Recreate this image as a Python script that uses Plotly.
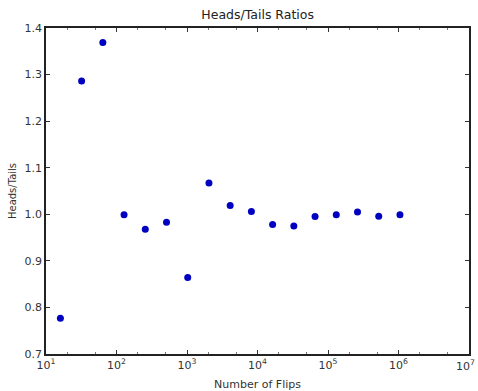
import plotly.graph_objects as go

flips = [16, 32, 64, 128, 256, 512, 1024, 2048, 4096, 8192, 16384, 32768,
         65536, 131072, 262144, 524288, 1048576]
ratios = [0.777, 1.286, 1.369, 0.999, 0.968, 0.983, 0.864, 1.067, 1.019,
          1.006, 0.978, 0.975, 0.995, 0.999, 1.005, 0.996, 0.999]

xtick_vals = [10, 100, 1000, 10000, 100000, 1000000, 10000000]
xtick_text = ["10<sup>1</sup>", "10<sup>2</sup>", "10<sup>3</sup>", "10<sup>4</sup>",
              "10<sup>5</sup>", "10<sup>6</sup>", "10<sup>7</sup>"]
ytick_vals = [0.7, 0.8, 0.9, 1.0, 1.1, 1.2, 1.3, 1.4]

fig = go.Figure()
fig.add_trace(go.Scatter(
    x=flips, y=ratios, mode="markers",
    marker=dict(color="#0000c0", size=7, line=dict(width=0)),
    showlegend=False,
))

tickfont = dict(family="DejaVu Sans", size=11, color="#333333")

W, H = 478, 391
fig.update_layout(
    width=W, height=H,
    margin=dict(l=46, r=9, t=28, b=37, autoexpand=False),
    paper_bgcolor="white", plot_bgcolor="white",
    title=dict(text="Heads/Tails Ratios", x=0.539, xanchor="center",
               y=1 - 15 / H, yanchor="middle", yref="container",
               font=dict(family="DejaVu Sans", size=12.5, color="#222222")),
    font=dict(family="DejaVu Sans", size=10, color="#333333"),
)
# the last (edge) tick label would be dropped by plotly; draw it as an annotation
fig.add_annotation(
    text=xtick_text[-1], xref="paper", x=1, yref="paper", y=0,
    xanchor="right", yanchor="top", xshift=8, yshift=-2,
    showarrow=False, font=tickfont,
)
fig.update_xaxes(
    type="log", range=[1, 7], automargin=False,
    tickvals=xtick_vals[:-1], ticktext=xtick_text[:-1],
    ticks="inside", ticklen=4, tickcolor="#333333",
    minor=dict(ticks="inside", ticklen=2, tickcolor="#777777", showgrid=False),
    showline=True, linecolor="#222222", linewidth=1.5, mirror="ticks",
    showgrid=False, zeroline=False,
    title=dict(text="Number of Flips", standoff=9,
               font=dict(family="DejaVu Sans", size=11, color="#333333")),
    tickfont=tickfont,
)
fig.update_yaxes(
    range=[0.7, 1.4], automargin=False, tickvals=ytick_vals, tickformat=".1f",
    ticks="inside", ticklen=4, tickcolor="#333333",
    showline=True, linecolor="#222222", linewidth=1.5, mirror="ticks",
    showgrid=False, zeroline=False,
    title=dict(text="Heads/Tails", standoff=6,
               font=dict(family="DejaVu Sans", size=10, color="#333333")),
    tickfont=tickfont,
)

fig.write_html(
    "out.html",
    config={"displayModeBar": False},
    post_script="document.body.style.margin='0';document.body.style.overflow='hidden';",
)
